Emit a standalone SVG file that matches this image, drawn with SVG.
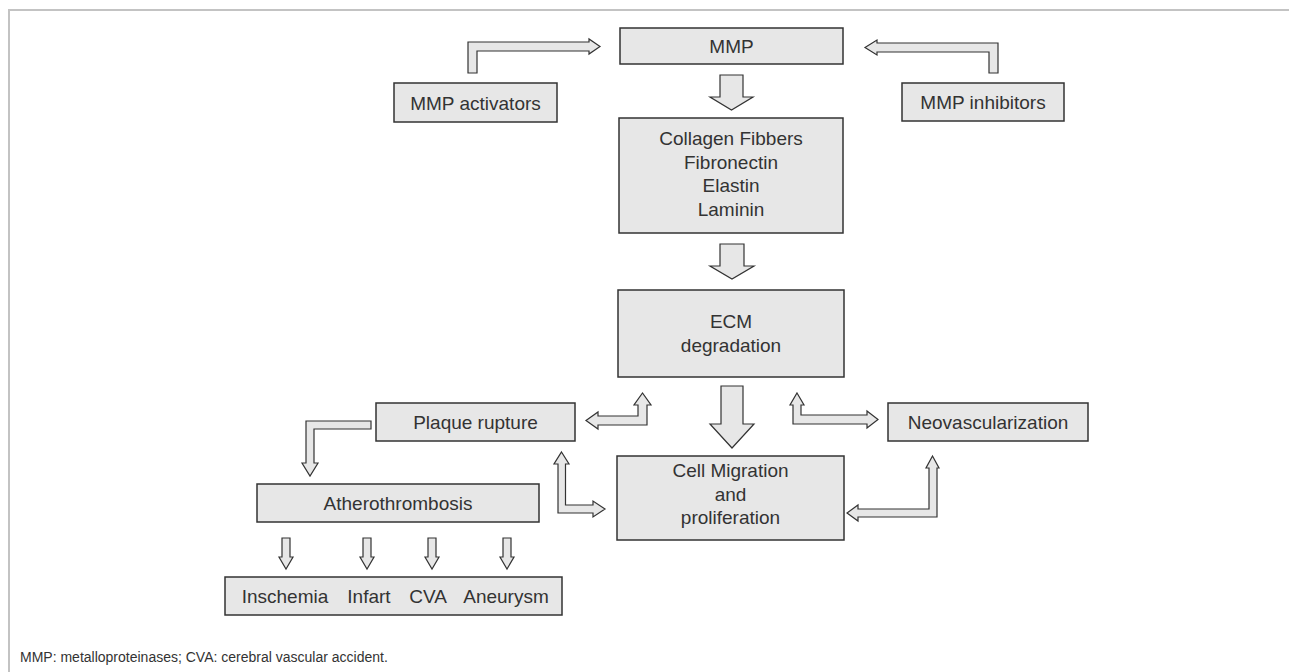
<svg xmlns="http://www.w3.org/2000/svg" width="1289" height="672" viewBox="0 0 1289 672">
<style>
.box{fill:#e7e7e7;stroke:#333;stroke-width:1.5}
.arr{fill:#e7e7e7;stroke:#333;stroke-width:1.2;stroke-linejoin:miter}
.t{font-family:"Liberation Sans",Arial,sans-serif;font-size:19px;fill:#333;text-anchor:middle}
.foot{font-family:"Liberation Sans",Arial,sans-serif;font-size:14px;fill:#333}
.frame{stroke:#c3c3c3;stroke-width:2;fill:none}
</style>
<rect width="1289" height="672" fill="#fff"/>
<path class="frame" d="M9,672 L9,10 L1289,10"/>

<g id="connectors">
<path class="arr" d="M468,73 L468,42 L589,42 L589,39 L600,46.5 L589,54 L589,51 L477,51 L477,73 Z"/>
<path class="arr" d="M998,73 L998,43 L877,43 L877,40 L865,47.5 L877,55 L877,52 L989,52 L989,73 Z"/>
<path class="arr" d="M720,75 L743,75 L743,97 L753,97 L731.5,110 L710,97 L720,97 Z"/>
<path class="arr" d="M720,244 L744,244 L744,266 L754,266 L732,279 L710,266 L720,266 Z"/>
<path class="arr" d="M721,386 L743,386 L743,424 L754,424 L732,448 L710,424 L721,424 Z"/>
<path class="arr" d="M586,420.5 L598,412 L598,416 L638,416 L638,405 L634,405 L642.5,393 L651,405 L647,405 L647,425 L598,425 L598,429 Z"/>
<path class="arr" d="M561.5,452 L569,464 L565.5,464 L565.5,505 L593,505 L593,501 L605,509 L593,517 L593,513 L558,513 L558,464 L554,464 Z"/>
<path class="arr" d="M797,393 L804,405 L801,405 L801,415 L867,415 L867,411 L878,419.5 L867,428 L867,424 L793,424 L793,405 L790,405 Z"/>
<path class="arr" d="M932.5,456 L939,468 L937,468 L937,517 L858,517 L858,521 L847,513 L858,505 L858,509 L929,509 L929,468 L926,468 Z"/>
<path class="arr" d="M371,421 L371,429 L314,429 L314,463 L318,463 L310,476 L302,463 L306,463 L306,421 Z"/>
<path class="arr" d="M282,538 L290,538 L290,557 L293,557 L286,569 L279,557 L282,557 Z"/>
<path class="arr" d="M363,538 L371,538 L371,557 L374,557 L367,569 L360,557 L363,557 Z"/>
<path class="arr" d="M428,538 L436,538 L436,557 L439,557 L432,569 L425,557 L428,557 Z"/>
<path class="arr" d="M503,538 L511,538 L511,557 L514,557 L507,569 L500,557 L503,557 Z"/>
</g>

<g id="mmp"><rect class="box" x="620" y="28" width="223" height="36"/><text class="t" x="731.5" y="53">MMP</text></g>
<g id="activators"><rect class="box" x="394" y="83" width="163" height="39"/><text class="t" x="475.5" y="109.5">MMP activators</text></g>
<g id="inhibitors"><rect class="box" x="902" y="83" width="162" height="38"/><text class="t" x="983" y="109">MMP inhibitors</text></g>
<g id="collagen"><rect class="box" x="619" y="118" width="224" height="115"/>
<text class="t" x="731" y="145">Collagen Fibbers</text>
<text class="t" x="731" y="168.5">Fibronectin</text>
<text class="t" x="731" y="192">Elastin</text>
<text class="t" x="731" y="215.5">Laminin</text></g>
<g id="ecm"><rect class="box" x="618" y="290" width="226" height="87"/>
<text class="t" x="731" y="328">ECM</text>
<text class="t" x="731" y="352">degradation</text></g>
<g id="plaque"><rect class="box" x="376" y="403" width="199" height="38"/><text class="t" x="475.5" y="429">Plaque rupture</text></g>
<g id="neo"><rect class="box" x="888" y="403" width="200" height="38"/><text class="t" x="988" y="429">Neovascularization</text></g>
<g id="cell"><rect class="box" x="617" y="456" width="227" height="84"/>
<text class="t" x="730.5" y="477">Cell Migration</text>
<text class="t" x="730.5" y="500.5">and</text>
<text class="t" x="730.5" y="524">proliferation</text></g>
<g id="athero"><rect class="box" x="257" y="484" width="282" height="38"/><text class="t" x="398" y="510">Atherothrombosis</text></g>
<g id="outcomes"><rect class="box" x="225" y="577" width="337" height="38"/>
<text class="t" x="285" y="603">Inschemia</text>
<text class="t" x="369" y="603">Infart</text>
<text class="t" x="428" y="603">CVA</text>
<text class="t" x="506" y="603">Aneurysm</text></g>
<text class="foot" x="20" y="662">MMP: metalloproteinases; CVA: cerebral vascular accident.</text>
</svg>
